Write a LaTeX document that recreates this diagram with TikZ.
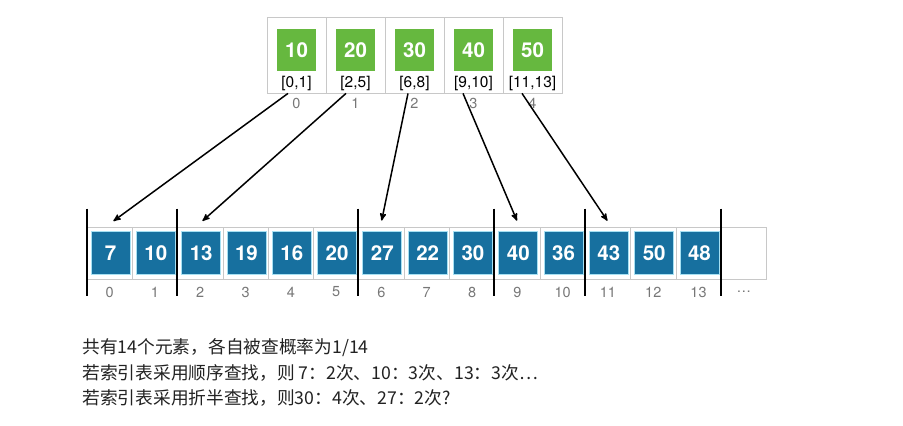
\documentclass[tikz,border=0pt]{standalone}
\usepackage{fontspec}
\setmainfont{TeX Gyre Heros}
\newfontfamily\cjk{Noto Sans CJK SC}
\usetikzlibrary{arrows,positioning}
\definecolor{keygreen}{HTML}{66B83F}
\definecolor{cellblue}{HTML}{17709F}
\definecolor{celledge}{HTML}{A6E0F2}
\definecolor{gridgray}{HTML}{C8C8C8}
\definecolor{idxgray}{HTML}{777777}
\definecolor{txtgray}{HTML}{222222}

\begin{document}
\begin{tikzpicture}[x=1pt,y=-1pt,>=stealth',shorten >=1pt,node distance=45.3pt]
\tikzstyle{box}=[draw=gridgray,line width=0.8pt,inner sep=0pt]
\tikzstyle{key}=[fill=keygreen,text=white,minimum width=39pt,minimum height=42pt,inner sep=0pt,font=\fontsize{20.5}{20.5}\selectfont\bfseries]
\tikzstyle{val}=[fill=cellblue,draw=celledge,line width=0.9pt,text=white,minimum width=39pt,minimum height=43pt,inner sep=0pt,font=\fontsize{20.5}{20.5}\selectfont\bfseries]
\tikzstyle{rng}=[font=\fontsize{15.5}{15.5}\selectfont]
\tikzstyle{posnum}=[text=idxgray,font=\fontsize{14.5}{14.5}\selectfont]
\tikzstyle{bar}=[line width=2pt,black]
\useasboundingbox (0,0) rectangle (903,426);

        % index table
        \node[box,minimum width=59pt,minimum height=76pt]                         (b0) at (296.5,55) {};
        \node[box,minimum width=59pt,minimum height=76pt,node distance=59pt]     (b1) [right of=b0] {};
        \node[box,minimum width=59pt,minimum height=76pt,node distance=59pt]     (b2) [right of=b1] {};
        \node[box,minimum width=59pt,minimum height=76pt,node distance=59pt]     (b3) [right of=b2] {};
        \node[box,minimum width=59pt,minimum height=76pt,node distance=59pt]     (b4) [right of=b3] {};

        \node[key]   (k0) at ([yshift=5pt]b0.center) {10};
        \node[key]   (k1) at ([yshift=5pt]b1.center) {20};
        \node[key]   (k2) at ([yshift=5pt]b2.center) {30};
        \node[key]   (k3) at ([yshift=5pt]b3.center) {40};
        \node[key]   (k4) at ([yshift=5pt]b4.center) {50};

        \node[rng]   (r0) at ([yshift=-28pt]b0.center) {[0,1]};
        \node[rng]   (r1) at ([yshift=-28pt]b1.center) {[2,5]};
        \node[rng]   (r2) at ([yshift=-28pt]b2.center) {[6,8]};
        \node[rng]   (r3) at ([yshift=-28pt]b3.center) {[9,10]};
        \node[rng]   (r4) at ([yshift=-28pt]b4.center) {[11,13]};

        \node[posnum,node distance=48pt]  (i0) [below of=b0] {0};
        \node[posnum,node distance=48pt]  (i1) [below of=b1] {1};
        \node[posnum,node distance=48pt]  (i2) [below of=b2] {2};
        \node[posnum,node distance=48pt]  (i3) [below of=b3] {3};
        \node[posnum,node distance=48pt]  (i4) [below of=b4] {4};

        % the array
        \node[box,minimum width=45.3pt,minimum height=52pt]   (a0) at (109.65,253) {};
        \node[box,minimum width=45.3pt,minimum height=52pt]   (a1)  [right of=a0]  {};
        \node[box,minimum width=45.3pt,minimum height=52pt]   (a2)  [right of=a1]  {};
        \node[box,minimum width=45.3pt,minimum height=52pt]   (a3)  [right of=a2]  {};
        \node[box,minimum width=45.3pt,minimum height=52pt]   (a4)  [right of=a3]  {};
        \node[box,minimum width=45.3pt,minimum height=52pt]   (a5)  [right of=a4]  {};
        \node[box,minimum width=45.3pt,minimum height=52pt]   (a6)  [right of=a5]  {};
        \node[box,minimum width=45.3pt,minimum height=52pt]   (a7)  [right of=a6]  {};
        \node[box,minimum width=45.3pt,minimum height=52pt]   (a8)  [right of=a7]  {};
        \node[box,minimum width=45.3pt,minimum height=52pt]   (a9)  [right of=a8]  {};
        \node[box,minimum width=45.3pt,minimum height=52pt]   (a10) [right of=a9]  {};
        \node[box,minimum width=45.3pt,minimum height=52pt]   (a11) [right of=a10] {};
        \node[box,minimum width=45.3pt,minimum height=52pt]   (a12) [right of=a11] {};
        \node[box,minimum width=45.3pt,minimum height=52pt]   (a13) [right of=a12] {};
        \node[box,minimum width=45.3pt,minimum height=52pt]   (a14) [right of=a13] {};

        \node[val]   (v0)  at ([xshift=0.9pt]a0.center)  {7};
        \node[val]   (v1)  at ([xshift=0.9pt]a1.center)  {10};
        \node[val]   (v2)  at ([xshift=0.9pt]a2.center)  {13};
        \node[val]   (v3)  at ([xshift=0.9pt]a3.center)  {19};
        \node[val]   (v4)  at ([xshift=0.9pt]a4.center)  {16};
        \node[val]   (v5)  at ([xshift=0.9pt]a5.center)  {20};
        \node[val]   (v6)  at ([xshift=0.9pt]a6.center)  {27};
        \node[val]   (v7)  at ([xshift=0.9pt]a7.center)  {22};
        \node[val]   (v8)  at ([xshift=0.9pt]a8.center)  {30};
        \node[val]   (v9)  at ([xshift=0.9pt]a9.center)  {40};
        \node[val]   (v10) at ([xshift=0.9pt]a10.center) {36};
        \node[val]   (v11) at ([xshift=0.9pt]a11.center) {43};
        \node[val]   (v12) at ([xshift=0.9pt]a12.center) {50};
        \node[val]   (v13) at ([xshift=0.9pt]a13.center) {48};

        \node[posnum,node distance=39pt]  (n0)  [below of=a0]  {0};
        \node[posnum,node distance=39pt]  (n1)  [below of=a1]  {1};
        \node[posnum,node distance=39pt]  (n2)  [below of=a2]  {2};
        \node[posnum,node distance=39pt]  (n3)  [below of=a3]  {3};
        \node[posnum,node distance=39pt]  (n4)  [below of=a4]  {4};
        \node[posnum,node distance=39pt]  (n5)  [below of=a5]  {5};
        \node[posnum,node distance=39pt]  (n6)  [below of=a6]  {6};
        \node[posnum,node distance=39pt]  (n7)  [below of=a7]  {7};
        \node[posnum,node distance=39pt]  (n8)  [below of=a8]  {8};
        \node[posnum,node distance=39pt]  (n9)  [below of=a9]  {9};
        \node[posnum,node distance=39pt]  (n10) [below of=a10] {10};
        \node[posnum,node distance=39pt]  (n11) [below of=a11] {11};
        \node[posnum,node distance=39pt]  (n12) [below of=a12] {12};
        \node[posnum,node distance=39pt]  (n13) [below of=a13] {13};
        \node[posnum,node distance=39pt]  (n14) [below of=a14] {\dots};

        % block borders
        \draw[bar] ([yshift=18pt]a0.north west)  -- ([yshift=-18pt]a0.south west);
        \draw[bar] ([yshift=18pt]a2.north west)  -- ([yshift=-18pt]a2.south west);
        \draw[bar] ([yshift=18pt]a6.north west)  -- ([yshift=-18pt]a6.south west);
        \draw[bar] ([yshift=18pt]a9.north west)  -- ([yshift=-18pt]a9.south west);
        \draw[bar] ([yshift=18pt]a11.north west) -- ([yshift=-18pt]a11.south west);
        \draw[bar] ([yshift=18pt]a14.north west) -- ([yshift=-18pt]a14.south west);

        \path[->,line width=1.5pt]
        ([xshift=-8.5pt]b0.south)  edge  ([xshift=3pt,yshift=5pt]a0.north)
        ([xshift=-9.5pt]b1.south)  edge  ([xshift=1.5pt,yshift=5pt]a2.north)
        ([xshift=-6.5pt]b2.south)  edge  ([yshift=5pt]a6.north)
        ([xshift=-10.5pt]b3.south) edge  ([yshift=5pt]a9.north)
        ([xshift=-10.5pt]b4.south) edge  ([yshift=5pt]a11.north)
        ; %end path

        % remarks
        \node[anchor=west,text=txtgray,font=\cjk\fontsize{17.7}{17.7}\selectfont] (t1) at (79,348) {共有14个元素，各自被查概率为1/14};
        \node[anchor=west,text=txtgray,font=\cjk\fontsize{17.7}{17.7}\selectfont] (t2) at (79,373) {若索引表采用顺序查找，则 7：2次、10：3次、13：3次…};
        \node[anchor=west,text=txtgray,font=\cjk\fontsize{17.7}{17.7}\selectfont] (t3) at (79,398) {若索引表采用折半查找，则30：4次、27：2次?};

\end{tikzpicture}
\end{document}
